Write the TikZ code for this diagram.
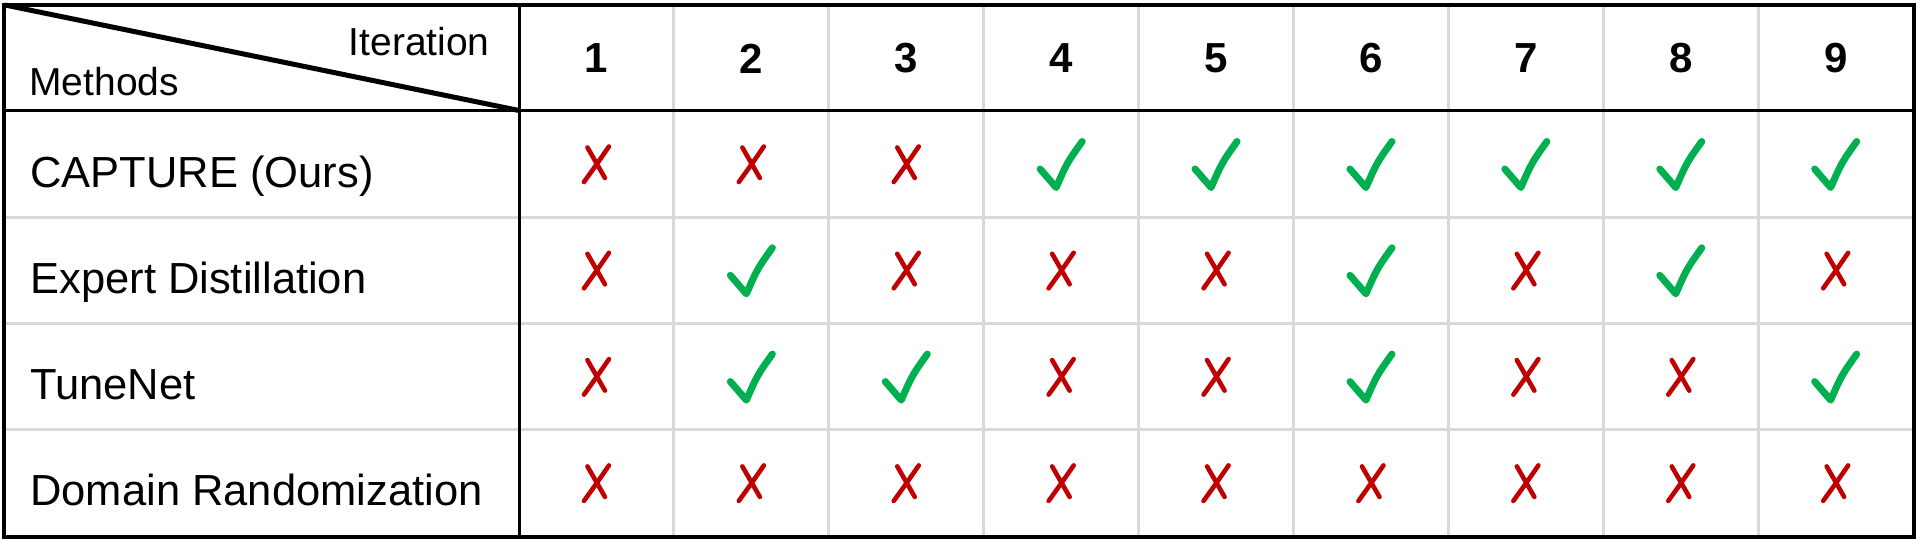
\documentclass[tikz,border=0pt]{standalone}
\usepackage{fontspec}
\setmainfont{Liberation Sans}
\usepackage{tikz}
\usepackage{xcolor}

\definecolor{okgreen}{HTML}{00B050}
\definecolor{badred}{HTML}{C00000}
\definecolor{cellgray}{HTML}{D9D9D9}

\tikzset{
  cellline/.style={cellgray, line width=1.5pt},
  boldline/.style={black, line width=1.5pt},
  method/.style={anchor=base west, inner sep=0pt, font=\fontsize{21.75}{26}\selectfont},
  corner/.style={inner sep=0pt, font=\fontsize{19.5}{23}\selectfont},
  iter/.style={inner sep=0pt, font=\bfseries\fontsize{21}{25}\selectfont},
  yes/.pic={\draw[okgreen, line width=3.5pt, line cap=round, line join=round]
    (-21,5) -- (-5,23.5) .. controls (6,-1.5) .. (21,-22.5);},
  no/.pic={\draw[badred, line width=2.3pt, line cap=round]
    (12.5,-17.5) .. controls (1.5,-1.5) .. (-12.5,18)
    (-9,-16.5) -- (8.5,14);}
}

\begin{document}
\begin{tikzpicture}[x=0.5pt, y=-0.5pt]
\useasboundingbox (0,0) rectangle (1920,542);

% light cell lines
\foreach \y in {217,323,429}
	\draw[cellline] (5,\y) -- (1912,\y);
\foreach \k in {1,...,8}
	\draw[cellline] ({519+154.9*\k},6) -- ({519+154.9*\k},535);

% header rules and corner split
\draw[boldline] (519,5) -- (519,536);
\draw[boldline] (5,110.5) -- (1912,110.5);
\draw[black, line width=2.5pt] (5,5) -- (519,110.5);
\draw[black, line width=2pt] (3.5,5) rectangle (1913.5,536.5);

\node[corner, anchor=base east] (iterlabel) at (490,55) {Iteration};
\node[corner, anchor=base west] (methlabel) at (29,95) {Methods};

\foreach \c in {1,...,9}
	\node[iter] (it-\c) at ({519+154.9*(\c-0.5)},58.5) {\c};

\foreach \r/\name in {1/CAPTURE (Ours), 2/Expert Distillation, 3/TuneNet, 4/Domain Randomization}
	\node[method] (row-\r) at (30,{187+106.3*(\r-1)}) {\name};

% 1 = success, 0 = failure
\foreach \r/\marks in {1/{0,0,0,1,1,1,1,1,1}, 2/{0,1,0,0,0,1,0,1,0},
                       3/{0,1,1,0,0,1,0,0,1}, 4/{0,0,0,0,0,0,0,0,0}}
	\foreach \m [count=\c] in \marks {
		\ifnum\m=1
			\pic (mark-\r-\c) at ({519+154.9*(\c-0.5)},{164+106.3*(\r-1)}) {yes};
		\else
			\pic (mark-\r-\c) at ({519+154.9*(\c-0.5)},{164+106.3*(\r-1)}) {no};
		\fi
	}
\end{tikzpicture}
\end{document}
